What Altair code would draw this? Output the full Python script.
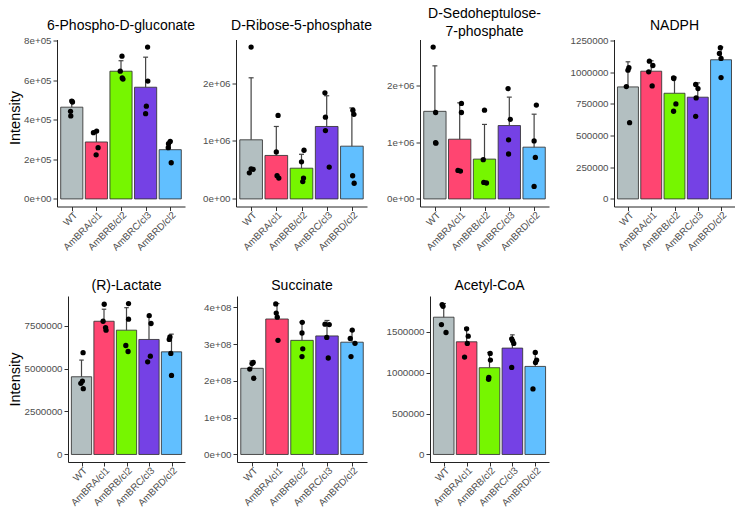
import altair as alt
import pandas as pd

groups = ["WT", "AmBRA/cl1", "AmBRB/cl2", "AmBRC/cl3", "AmBRD/cl2"]
colors = ["#B3BFC1", "#FF4571", "#76F600", "#7541E5", "#61BFFF"]

# 6-Phospho-D-gluconate
pg_bar = [4.64e5, 2.88e5, 6.46e5, 5.65e5, 2.49e5]
pg_err = [5.0e5, 3.42e5, 6.99e5, 7.17e5, 2.93e5]
pg_pts = [[4.95e5, 4.9e5, 4.43e5, 4.2e5], [3.43e5, 3.35e5, 2.59e5, 2.23e5],
          [7.22e5, 6.46e5, 6.12e5, 6.06e5], [7.68e5, 5.96e5, 4.69e5, 4.31e5],
          [2.91e5, 2.79e5, 2.59e5, 1.83e5]]
pg_jit = [[0.0, 0.03, -0.05, -0.04], [0.01, -0.12, 0.07, -0.01], [0.04, -0.03, 0.05, 0.08],
          [0.08, 0.09, 0.03, 0.0], [0.0, -0.07, -0.08, 0.04]]

# D-Ribose-5-phosphate
rp_bar = [1.02e6, 0.75e6, 0.53e6, 1.25e6, 0.91e6]
rp_err = [2.09e6, 1.25e6, 0.77e6, 1.78e6, 1.57e6]
rp_pts = [[2.62e6, 0.52e6, 0.51e6, 0.45e6], [1.44e6, 0.81e6, 0.40e6, 0.36e6],
          [0.84e6, 0.64e6, 0.36e6, 0.30e6], [1.83e6, 1.41e6, 1.18e6, 0.55e6],
          [1.53e6, 1.46e6, 0.40e6, 0.27e6]]
rp_jit = [[0.0, 0.0, 0.08, -0.07], [0.07, 0.0, 0.03, 0.1], [0.1, 0.0, 0.08, 0.05],
          [-0.07, -0.05, -0.05, 0.1], [0.04, 0.08, 0.03, 0.09]]

# D-Sedoheptulose-7-phosphate
sp_bar = [1.54e6, 1.05e6, 0.70e6, 1.29e6, 0.91e6]
sp_err = [2.34e6, 1.69e6, 1.31e6, 1.79e6, 1.49e6]
sp_pts = [[2.67e6, 1.52e6, 0.99e6, 0.98e6], [1.68e6, 1.52e6, 0.50e6, 0.49e6],
          [1.56e6, 0.69e6, 0.29e6, 0.28e6], [1.94e6, 1.40e6, 1.04e6, 0.79e6],
          [1.65e6, 1.02e6, 0.73e6, 0.22e6]]
sp_jit = [[-0.07, 0.03, 0.03, 0.04], [0.07, 0.07, -0.07, 0.03], [0.0, -0.05, -0.03, 0.08],
          [-0.05, 0.04, -0.03, -0.03], [0.09, 0.0, 0.05, 0.0]]

# NADPH
nadph_bar = [883000, 1007000, 833000, 802000, 1097000]
nadph_err = [1081000, 1089000, 960000, 915000, 1197000]
nadph_pts = [[1034000, 1015000, 886000, 601000], [1086000, 1052000, 1002000, 891000],
             [955000, 949000, 749000, 691000], [902000, 870000, 796000, 651000],
             [1192000, 1147000, 1108000, 957000]]
nadph_jit = [[0.04, 0.0, -0.07, 0.07], [-0.08, 0.07, -0.11, 0.04], [-0.04, -0.03, 0.06, -0.04],
             [-0.09, 0.01, -0.07, -0.09], [-0.03, -0.07, 0.0, 0.0]]

# (R)-Lactate
lac_bar = [4.52e6, 7.75e6, 7.23e6, 6.69e6, 5.97e6]
lac_err = [5.49e6, 8.45e6, 8.54e6, 8.00e6, 7.00e6]
lac_pts = [[5.92e6, 4.27e6, 4.14e6, 3.83e6], [8.74e6, 7.75e6, 7.38e6, 7.23e6],
           [8.78e6, 7.87e6, 6.34e6, 5.99e6], [8.08e6, 7.62e6, 5.72e6, 5.39e6],
           [6.84e6, 6.69e6, 5.88e6, 4.60e6]]
lac_jit = [[0.07, 0.04, -0.03, 0.08], [0.01, -0.04, 0.07, 0.09], [0.09, 0.09, -0.03, 0.07],
           [0.01, 0.09, 0.06, -0.06], [-0.07, -0.1, -0.03, 0.0]]

# Succinate
suc_bar = [2.34e8, 3.68e8, 3.10e8, 3.22e8, 3.05e8]
suc_err = [2.54e8, 4.10e8, 3.60e8, 3.64e8, 3.36e8]
suc_pts = [[2.50e8, 2.47e8, 2.32e8, 2.07e8], [4.09e8, 3.84e8, 3.73e8, 3.10e8],
           [3.59e8, 3.30e8, 2.87e8, 2.66e8], [3.54e8, 3.53e8, 3.18e8, 2.62e8],
           [3.38e8, 3.15e8, 3.02e8, 2.66e8]]
suc_jit = [[0.05, 0.0, -0.09, 0.07], [-0.05, -0.03, 0.01, 0.04], [0.01, 0.0, 0.03, 0.0],
           [-0.08, 0.09, -0.01, 0.05], [0.01, -0.07, 0.12, -0.04]]

# Acetyl-CoA
acc_bar = [1679000, 1378000, 1061000, 1301000, 1077000]
acc_err = [1846000, 1553000, 1248000, 1463000, 1252000]
acc_pts = [[1833000, 1813000, 1589000, 1492000], [1537000, 1447000, 1358000, 1191000],
           [1236000, 1154000, 943000, 920000], [1415000, 1390000, 1358000, 1065000],
           [1248000, 1154000, 1126000, 801000]]
acc_jit = [[-0.07, -0.03, -0.1, 0.1], [0.0, 0.07, 0.03, -0.09], [0.03, 0.04, -0.03, -0.04],
           [-0.03, 0.01, 0.06, -0.03], [0.0, 0.06, 0.01, -0.1]]

FONT = "Liberation Sans"
SCI = "slice(format(datum.value,'.0e'),0,-1)+'0'+slice(format(datum.value,'.0e'),-1)"
XLAB = "[" + ",".join("'" + g + "'" for g in groups) + "][datum.value]"
NOVIEW = alt.ViewBackground(stroke="transparent", strokeWidth=0)


def panel(title, bars, errs, pts, jit, ticks, sci, width, height, ytitle=None, title_x=-40,
          title_y=None, title_offset=7):
    bdf = pd.DataFrame({
        "idx": list(range(len(groups))), "group": groups, "mean": bars, "top": errs,
        "zero": [0] * len(groups),
    })
    bdf["lo"] = bdf["idx"] - 0.45
    bdf["hi"] = bdf["idx"] + 0.45
    bdf["clo"] = bdf["idx"] - 0.1
    bdf["chi"] = bdf["idx"] + 0.1
    rows = []
    for i, (vals, js) in enumerate(zip(pts, jit)):
        for v, j in zip(vals, js):
            rows.append({"px": i + j, "py": v})
    pdf = pd.DataFrame(rows)
    m = max(max(max(p) for p in pts), max(errs))
    ydom = [-0.05 * m, 1.05 * m]

    xaxis = alt.Axis(values=list(range(len(groups))), labelExpr=XLAB, labelAngle=-45,
                     labelAlign="right", labelBaseline="top", grid=False, title=None,
                     labelFontSize=9.75, labelColor="#4D4D4D", tickColor="#333333",
                     domainColor="#222222", tickSize=4, labelPadding=-1,
                     labelOverlap=False, labelFlush=False, labelBound=False)
    yargs = dict(values=ticks, grid=False, labelFontSize=9.75, labelColor="#4D4D4D",
                 tickColor="#333333", domainColor="#222222", tickSize=4, labelPadding=2,
                 labelOverlap=False, labelFlush=False,
                 title=ytitle if ytitle else None)
    if ytitle:
        yargs.update(titleFontSize=14.5, titleFontWeight="normal", titleColor="black",
                     titleX=title_x)
        if title_y is not None:
            yargs["titleY"] = title_y
    if sci:
        yargs["labelExpr"] = SCI
    else:
        yargs["format"] = "d"
    yaxis = alt.Axis(**yargs)
    xs = alt.Scale(domain=[-0.6, len(groups) - 0.4], nice=False, zero=False)
    ys = alt.Scale(domain=ydom, nice=False, zero=False)

    base = alt.Chart(bdf)
    barl = base.mark_bar(stroke="#333333", strokeWidth=1, strokeOpacity=0.85).encode(
        x=alt.X("lo:Q", scale=xs, axis=xaxis),
        x2="hi",
        y=alt.Y("mean:Q", scale=ys, axis=yaxis),
        y2="zero",
        color=alt.Color("group:N", scale=alt.Scale(domain=groups, range=colors), legend=None),
    )
    errl = base.mark_rule(color="#444444", strokeWidth=1.2).encode(
        x=alt.X("idx:Q", scale=xs, axis=xaxis),
        y=alt.Y("mean:Q", scale=ys, axis=yaxis),
        y2="top",
    )
    capl = base.mark_rule(color="#444444", strokeWidth=1.2).encode(
        x=alt.X("clo:Q", scale=xs, axis=xaxis),
        x2="chi",
        y=alt.Y("top:Q", scale=ys, axis=yaxis),
    )
    ptl = alt.Chart(pdf).mark_circle(size=28, color="black", opacity=1).encode(
        x=alt.X("px:Q", scale=xs, axis=xaxis),
        y=alt.Y("py:Q", scale=ys, axis=yaxis),
    )
    return alt.layer(barl, errl, capl, ptl).properties(
        width=width, height=height, view=NOVIEW,
        title=alt.TitleParams(title, fontSize=14, fontWeight="normal", anchor="middle",
                              color="black", font=FONT, offset=title_offset, frame="group",
                              lineHeight=18),
    )


def spacer(w, h):
    return alt.Chart(pd.DataFrame({"a": [0]})).mark_rule(opacity=0).encode(
        x=alt.value(0), y=alt.value(0), y2=alt.value(1)
    ).properties(width=w, height=h, view=NOVIEW)


H1, H2 = 167, 166
p1 = panel("6-Phospho-D-gluconate", pg_bar, pg_err, pg_pts, pg_jit,
           [0, 2e5, 4e5, 6e5, 8e5], True, 128, H1, "Intensity", title_x=-35, title_y=78,
           title_offset=2.5)
p2 = panel("D-Ribose-5-phosphate", rp_bar, rp_err, rp_pts, rp_jit,
           [0, 1e6, 2e6], True, 131, H1, title_offset=6.5)
p3 = panel(["D-Sedoheptulose-", "7-phosphate"], sp_bar, sp_err, sp_pts, sp_jit,
           [0, 1e6, 2e6], True, 129, H1, title_offset=0.5)
p4 = panel("NADPH", nadph_bar, nadph_err, nadph_pts, nadph_jit,
           [0, 250000, 500000, 750000, 1000000, 1250000], False, 121, H1, title_offset=2.5)
p5 = panel("(R)-Lactate", lac_bar, lac_err, lac_pts, lac_jit,
           [0, 2500000, 5000000, 7500000], False, 117, H2, "Intensity", title_x=-46,
           title_offset=3)
p6 = panel("Succinate", suc_bar, suc_err, suc_pts, suc_jit,
           [0, 1e8, 2e8, 3e8, 4e8], True, 130, H2, title_offset=3)
p7 = panel("Acetyl-CoA", acc_bar, acc_err, acc_pts, acc_jit,
           [0, 500000, 1000000, 1500000], False, 119, H2, title_offset=3)

row1 = alt.hconcat(p1, spacer(51, H1), p2, spacer(53, H1), p3, spacer(65, H1), p4,
                   spacing=0, bounds="flush")
row2 = alt.hconcat(spacer(11, H2), p5, spacer(52, H2), p6, spacer(63, H2), p7,
                   spacing=0, bounds="flush")
chart = (
    alt.vconcat(row1, row2, spacing=26.5)
    .properties(padding={"left": -2, "top": -1.5, "right": 0, "bottom": -1})
    .configure(font=FONT)
    .configure_view(stroke="transparent", strokeWidth=0)
    .configure_axis(labelFont=FONT, titleFont=FONT)
)

chart.save("out.html", embed_options={"renderer": "svg", "actions": False})
